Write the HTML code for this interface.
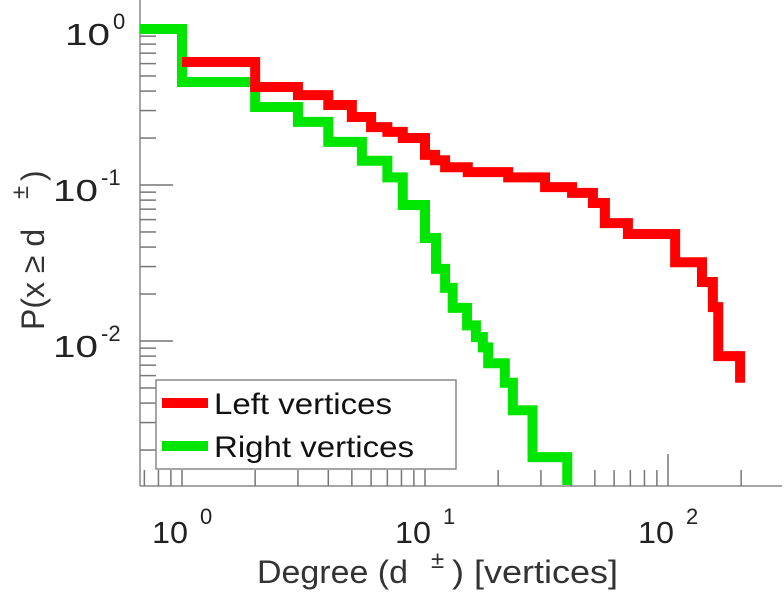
<!DOCTYPE html>
<html><head><meta charset="utf-8"><style>
html,body{margin:0;padding:0;background:#fff;}
svg{display:block;font-family:"Liberation Sans",sans-serif;}
</style></head><body>
<svg id="chart" width="784" height="600" viewBox="0 0 784 600">
<defs><clipPath id="clip"><rect x="140" y="0" width="642" height="485"/></clipPath></defs>
<g id="axes"></g>
<g id="series"></g>
<g id="labels"></g>
<g id="legend">
  <rect x="156" y="380" width="300" height="89" fill="#fff" stroke="#888" stroke-width="1.5"/>
  <line x1="162" y1="403" x2="208" y2="403" stroke="#ff0000" stroke-width="10"/>
  <text x="214" y="414" font-size="30" textLength="178" lengthAdjust="spacingAndGlyphs" fill="#111">Left vertices</text>
  <line x1="162" y1="446" x2="208" y2="446" stroke="#00e600" stroke-width="10"/>
  <text x="214" y="457" font-size="30" textLength="200" lengthAdjust="spacingAndGlyphs" fill="#111">Right vertices</text>
</g>
</svg>
<script>
// Data (degree step ends, probability levels)
const redStart = 1;
const redX = [2, 3, 4, 5, 6, 7, 8.1, 10, 11, 12.1, 15, 22, 31.2, 40.3, 49.1, 55, 68.4, 107, 138, 153, 161, 198];
const redY = [0.614, 0.425, 0.377, 0.326, 0.273, 0.235, 0.219, 0.2, 0.156, 0.144, 0.130, 0.121, 0.112, 0.097, 0.089, 0.0767, 0.057, 0.0485, 0.032, 0.0239, 0.0165, 0.008];
const redEnd = 0.0054;
const greenStart = 0.67;
const greenX = [1, 2, 3, 4, 5.5, 7, 8.1, 10, 11.1, 12.1, 13, 14.9, 16.2, 17.3, 18.2, 21.3, 23, 27.7, 38.5];
const greenY = [1.0, 0.457, 0.316, 0.254, 0.189, 0.143, 0.112, 0.0745, 0.0457, 0.029, 0.0219, 0.0163, 0.0126, 0.0106, 0.0091, 0.0072, 0.0054, 0.0036, 0.0018];
const greenEnd = 0.0009;
const xTickExps = [0, 1, 2];
const yTickExps = [0, -1, -2];

const X0 = 182, XD = 243, Y0 = 29, YD = 156;
const plotLeft = 140, plotBottom = 486, plotRight = 782, plotTop = 0;
function sx(v){ return X0 + Math.log10(v) * XD; }
function sy(v){ return Y0 - Math.log10(v) * YD; }
const NS = "http://www.w3.org/2000/svg";
function mk(tag, attrs, parent){ const e = document.createElementNS(NS, tag); for (const k in attrs) e.setAttribute(k, attrs[k]); parent.appendChild(e); return e; }

const axes = document.getElementById('axes');
const la = mk('line', {x1:plotLeft, y1:plotTop, x2:plotLeft, y2:plotBottom, stroke:'#888', 'stroke-width':1.5}, axes);


const ba = mk('line', {x1:plotLeft, y1:plotBottom, x2:plotRight, y2:plotBottom, stroke:'#888', 'stroke-width':1.5}, axes);


for (let e = -1; e <= 2; e++) {
  for (let m = 1; m <= 9; m++) {
    const v = m * Math.pow(10, e);
    const x = sx(v);
    if (x < plotLeft + 2 || x > plotRight) continue;
    const len = (m === 1 && e > 0) ? 32 : 16;
    const t = mk('line', {x1:x, y1:plotBottom, x2:x, y2:plotBottom - len, stroke:'#777', 'stroke-width':1.5}, axes);
    
    
  }
}
for (let e = -3; e <= 0; e++) {
  for (let m = 1; m <= 9; m++) {
    const v = m * Math.pow(10, e);
    const y = sy(v);
    if (y > plotBottom - 2 || y < plotTop) continue;
    const len = (m === 1 && e < 0) ? 33 : 16;
    const t = mk('line', {x1:plotLeft, y1:y, x2:plotLeft + len, y2:y, stroke:'#777', 'stroke-width':1.5}, axes);
    
    
  }
}

const ser = document.getElementById('series');
function stepPath(start, xs, ys, end){
  let d = 'M' + sx(start) + ' ' + sy(ys[0]);
  for (let i = 0; i < xs.length; i++) {
    d += ' H' + sx(xs[i]);
    if (i + 1 < ys.length) d += ' V' + sy(ys[i + 1]);
  }
  d += ' V' + sy(end);
  return d;
}
const rp = mk('path', {d:stepPath(greenStart, greenX, greenY, greenEnd), fill:'none', stroke:'#00e600', 'stroke-width':10, 'stroke-linejoin':'miter', 'clip-path':'url(#clip)'}, ser);


const lp = mk('path', {d:stepPath(redStart, redX, redY, redEnd), fill:'none', stroke:'#ff0000', 'stroke-width':10, 'stroke-linejoin':'miter', 'clip-path':'url(#clip)'}, ser);



const lab = document.getElementById('labels');
xTickExps.forEach(e => {
  const x = sx(Math.pow(10, e));
  const t = mk('text', {x:x - 30, y:543, 'font-size':31, fill:'#222', textLength:36, lengthAdjust:'spacingAndGlyphs'}, lab);
  t.textContent = '10';
  
  
  const s = mk('text', {x:x + 18, y:524, 'font-size':22, fill:'#222'}, lab);
  s.textContent = String(e);
  
  
});
yTickExps.forEach(e => {
  const y = sy(Math.pow(10, e));
  const w = 45;
  const xr = e === 0 ? 110 : 98;
  const t = mk('text', {x:xr - w, y:y + 16, 'font-size':31, fill:'#222', textLength:w, lengthAdjust:'spacingAndGlyphs'}, lab);
  t.textContent = '10';
  
  
  const s = mk('text', {x:xr + 3, y:y, 'font-size':22, fill:'#222'}, lab);
  s.textContent = String(e);
  
  
});
const xt = mk('text', {x:257, y:583, 'font-size':32, fill:'#333', textLength:151, lengthAdjust:'spacingAndGlyphs'}, lab);
xt.textContent = 'Degree (d';


const xt2 = mk('text', {x:431, y:568, 'font-size':24, fill:'#333'}, lab);
xt2.textContent = '±';


const xt3 = mk('text', {x:452, y:583, 'font-size':32, fill:'#333', textLength:166, lengthAdjust:'spacingAndGlyphs'}, lab);
xt3.textContent = ') [vertices]';


const yt = mk('text', {x:0, y:0, 'font-size':32, fill:'#333', transform:'translate(44,330) rotate(-90)'}, lab);
yt.textContent = 'P(x ≥ d';


const ys2 = mk('text', {x:0, y:0, 'font-size':24, fill:'#333', transform:'translate(28,199) rotate(-90)'}, lab);
ys2.textContent = '±';


const ys3 = mk('text', {x:0, y:0, 'font-size':32, fill:'#333', transform:'translate(44,181) rotate(-90)'}, lab);
ys3.textContent = ')';


</script>
</body></html>
